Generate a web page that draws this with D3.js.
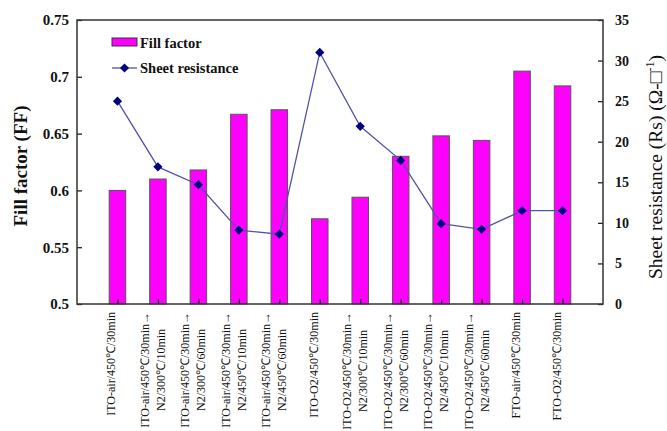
<!DOCTYPE html>
<html>
<head>
<meta charset="utf-8">
<script src="https://cdn.jsdelivr.net/npm/d3@7"></script>
<style>
  body { margin: 0; background: #fff; }
  text { font-family: "Liberation Serif", "Times New Roman", serif; }
</style>
</head>
<body>
<div id="chart"></div>
<script>
// categories (each label may have two lines)
var categories = [
    ["ITO-air/450\u2103/30min"],
    ["ITO-air/450\u2103/30min\u2192", "N2/300\u2103/10min"],
    ["ITO-air/450\u2103/30min\u2192", "N2/300\u2103/60min"],
    ["ITO-air/450\u2103/30min\u2192", "N2/450\u2103/10min"],
    ["ITO-air/450\u2103/30min\u2192", "N2/450\u2103/60min"],
    ["ITO-O2/450\u2103/30min"],
    ["ITO-O2/450\u2103/30min\u2192", "N2/300\u2103/10min"],
    ["ITO-O2/450\u2103/30min\u2192", "N2/300\u2103/60min"],
    ["ITO-O2/450\u2103/30min\u2192", "N2/450\u2103/10min"],
    ["ITO-O2/450\u2103/30min\u2192", "N2/450\u2103/60min"],
    ["FTO-air/450\u2103/30min"],
    ["FTO-O2/450\u2103/30min"]
];
var fillFactor = [0.600, 0.610, 0.618, 0.667, 0.671, 0.575, 0.594, 0.630, 0.648, 0.644, 0.705, 0.692];
var sheetRes = [25.0, 16.9, 14.7, 9.1, 8.6, 31.0, 21.9, 17.7, 9.9, 9.2, 11.5, 11.5];
var leftTicks = [0.5, 0.55, 0.6, 0.65, 0.7, 0.75];
var rightTicks = [0, 5, 10, 15, 20, 25, 30, 35];

var margin = {left: 77, top: 20},
    width = 526,
    height = 284;

var svg = d3.select("#chart")
    .append("svg")
    .attr("width", 667)
    .attr("height", 431);

var g = svg.append("g")
    .attr("transform", `translate(${margin.left},${margin.top})`);

var x = d3.scaleLinear().domain([0, categories.length + 1]).range([0, width]);
var yL = d3.scaleLinear().domain([0.5, 0.75]).range([height, 0]);
var yR = d3.scaleLinear().domain([0, 35]).range([height, 0]);

var barW = 16.5;

// bars
g.selectAll(".bar")
    .data(fillFactor)
    .enter().append("rect")
    .attr("x", function(d, i) { return x(i + 1) - barW / 2; })
    .attr("y", function(d) { return yL(d); })
    .attr("width", barW)
    .attr("height", function(d) { return height - yL(d); })
    .attr("fill", "#ff00ff")
    .attr("stroke", "#555")
    .attr("stroke-width", 1);

// line
g.append("path")
    .datum(sheetRes)
    .attr("fill", "none")
    .attr("stroke", "#5252a6")
    .attr("stroke-width", 1.3)
    .attr("d", d3.line()
        .x(function(d, i) { return x(i + 1); })
        .y(function(d) { return yR(d); }));

var diamond = "M0,-4.6L4.6,0L0,4.6L-4.6,0Z";
g.selectAll(".pt")
    .data(sheetRes)
    .enter().append("path")
    .attr("d", diamond)
    .attr("transform", function(d, i) { return `translate(${x(i + 1)},${yR(d)})`; })
    .attr("fill", "#000080");

// axes (ticks pointing inward)
var left = g.append("g")
    .call(d3.axisLeft(yL).tickValues(leftTicks).tickSizeInner(-5).tickSizeOuter(0).tickPadding(8)
        .tickFormat(function(d) { return d3.format("")(+d.toFixed(2)); }));
var right = g.append("g")
    .attr("transform", `translate(${width},0)`)
    .call(d3.axisRight(yR).tickValues(rightTicks).tickSizeInner(-5).tickSizeOuter(0).tickPadding(12));
var bottom = g.append("g")
    .attr("transform", `translate(0,${height})`)
    .call(d3.axisBottom(x).tickValues(d3.range(1, categories.length + 1)).tickSizeInner(-5).tickSizeOuter(0).tickFormat(""));

[left, right, bottom].forEach(function(a) {
    a.select(".domain").remove();
    a.selectAll("line").attr("stroke", "#222").attr("stroke-width", 1.3);
});
left.selectAll("text").attr("font-size", 15).attr("font-weight", "bold").attr("fill", "#111")
    .style("font-family", "Liberation Serif");
right.selectAll("text").attr("font-size", 14).attr("font-weight", "bold").attr("fill", "#111")
    .style("font-family", "Liberation Serif");

// frame
g.append("rect")
    .attr("width", width)
    .attr("height", height)
    .attr("fill", "none")
    .attr("stroke", "#333")
    .attr("stroke-width", 1.5);

// category labels, rotated
var labTop = height + 8;
categories.forEach(function(lines, i) {
    var cx = x(i + 1);
    var offs = lines.length === 1 ? [-2] : [-9, 7];
    var texts = lines.map(function(s, k) {
        return g.append("text")
            .attr("font-size", 12)
            .attr("fill", "#111")
            .attr("text-anchor", "middle")
            .text(s)
            .datum(offs[k]);
    });
    var maxW = d3.max(texts, function(t) { return t.node().getComputedTextLength(); });
    var cy = labTop + maxW / 2;
    texts.forEach(function(t) {
        t.attr("transform", `translate(${cx + t.datum()},${cy}) rotate(-90)`);
    });
});

// axis titles
svg.append("text")
    .attr("transform", "translate(27,166) rotate(-90)")
    .attr("text-anchor", "middle")
    .attr("font-size", 19)
    .attr("font-weight", "bold")
    .attr("fill", "#111")
    .text("Fill factor (FF)");

var rt = svg.append("text")
    .attr("transform", "translate(662,167) rotate(-90)")
    .attr("text-anchor", "middle")
    .attr("font-size", 19.5)
    .attr("fill", "#111");
rt.append("tspan").text("Sheet resistance (Rs) (\u03a9-\u25a1");
rt.append("tspan").attr("font-size", 12).attr("dy", -8).text("-1");
rt.append("tspan").attr("dy", 8).text(")");

// legend
var leg = g.append("g").attr("transform", "translate(35,18)");
leg.append("rect")
    .attr("x", 0).attr("y", 0).attr("width", 25).attr("height", 8)
    .attr("fill", "#ff00ff").attr("stroke", "#333").attr("stroke-width", 1);
leg.append("text")
    .attr("x", 28).attr("y", 9.5)
    .attr("font-size", 14.5).attr("font-weight", "bold").attr("fill", "#111")
    .text("Fill factor");
leg.append("line")
    .attr("x1", 0).attr("x2", 25).attr("y1", 30).attr("y2", 30)
    .attr("stroke", "#5252a6").attr("stroke-width", 1.3);
leg.append("path")
    .attr("d", diamond)
    .attr("transform", "translate(12.5,30)")
    .attr("fill", "#000080");
leg.append("text")
    .attr("x", 28).attr("y", 35)
    .attr("font-size", 14.5).attr("font-weight", "bold").attr("fill", "#111")
    .text("Sheet resistance");
</script>
</body>
</html>
